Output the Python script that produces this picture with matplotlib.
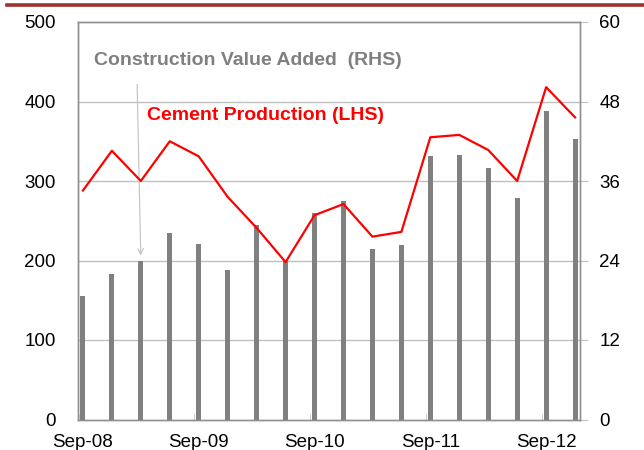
import matplotlib
matplotlib.use("Agg")
import matplotlib.pyplot as plt
from matplotlib.lines import Line2D
import numpy as np

plt.rcParams['font.family'] = ['Liberation Sans', 'DejaVu Sans']

quarters = ["Sep-08", "Dec-08", "Mar-09", "Jun-09", "Sep-09", "Dec-09", "Mar-10", "Jun-10",
            "Sep-10", "Dec-10", "Mar-11", "Jun-11", "Sep-11", "Dec-11", "Mar-12", "Jun-12",
            "Sep-12", "Dec-12"]
construction_value_added = [18.7, 22.0, 24.0, 28.1, 26.5, 22.6, 29.4, 24.0, 31.2, 33.0,
                            25.7, 26.4, 39.7, 40.0, 37.9, 33.5, 46.6, 42.4]
cement_production = [288, 338, 300, 350, 331, 280, 241, 198, 257, 271,
                     230, 236, 355, 358, 339, 300, 418, 380]
tick_labels = ["Sep-08", "Sep-09", "Sep-10", "Sep-11", "Sep-12"]
left_ticks = [0, 100, 200, 300, 400, 500]
right_ticks = [0, 12, 24, 36, 48, 60]

x = np.arange(len(quarters))

fig = plt.figure(figsize=(6.44, 4.5), dpi=100)
ax = fig.add_axes([78/644, 1 - 419.5/450, (580-78)/644, (419.5-22)/450])
ax2 = ax.twinx()

grid_c = '#c0c0c0'
fs = 13.5
# bars on right axis
ax2.bar(x, construction_value_added, width=0.17, color='#808080', zorder=3)
ax2.set_ylim(0, 60)
ax2.set_yticks(right_ticks)
for yv in right_ticks[1:-1]:
    ax2.axhline(yv, color=grid_c, lw=1, zorder=1)
ax2.tick_params(axis='y', direction='out', length=6, color=grid_c, labelsize=fs, pad=8)

# line on left axis
ax.plot(x, cement_production, color='#ff0000', lw=1.6, zorder=5)
ax.set_ylim(0, 500)
ax.set_yticks(left_ticks)
ax.tick_params(axis='y', length=0, labelsize=fs, pad=16)
ax.set_xlim(-0.17, 17.17)
ax.set_xticks(x[::4])
ax.set_xticklabels(tick_labels)
ax.tick_params(axis='x', length=0, labelsize=fs, pad=10.5)
ax.set_xticks(x[::4] - 0.15, minor=True)
ax.tick_params(axis='x', which='minor', direction='in', length=4, color=grid_c)

ax.set_zorder(ax2.get_zorder() + 1)
ax.patch.set_visible(False)

for a in (ax, ax2):
    for s in a.spines.values():
        s.set_color('#909090')
        s.set_linewidth(1)

ax.text(0.38, 452, "Construction Value Added  (RHS)", color='#808080', fontsize=14,
        fontweight='bold', va='center', ha='left')
ax.text(2.21, 382, "Cement Production (LHS)", color='#ff0000', fontsize=14,
        fontweight='bold', va='center', ha='left')
ax.annotate("", xy=(2.0, 203), xytext=(1.87, 425),
            arrowprops=dict(arrowstyle='->', color='#c0c0c0', lw=0.8))

# top decorative rule
fig.add_artist(Line2D([7/644, 1.0], [1 - 5/450, 1 - 5/450], color='#a03030', lw=2.6))

fig.savefig("out.png", dpi=100)
